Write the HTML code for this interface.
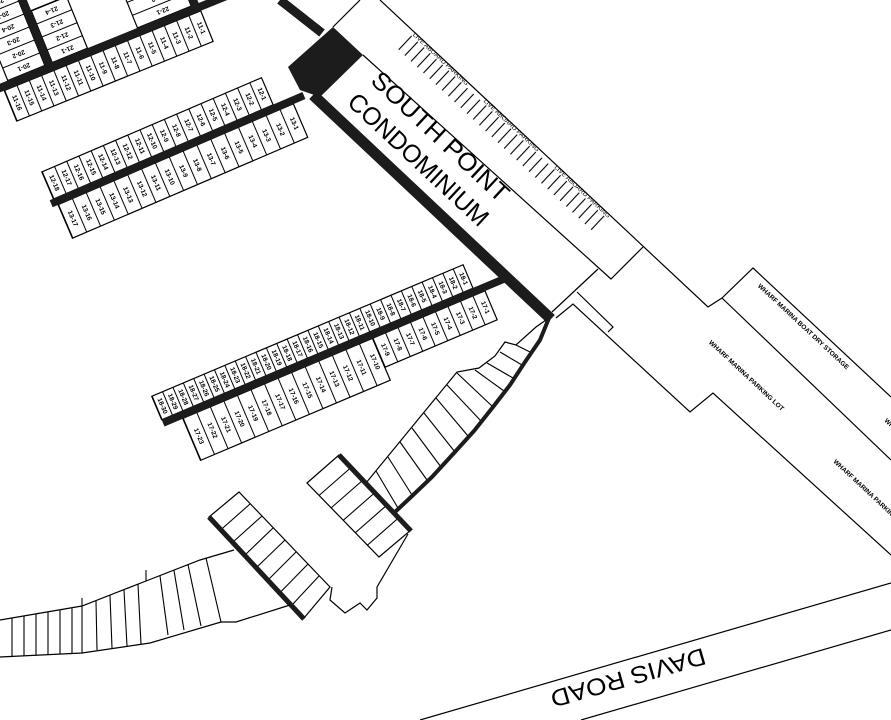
<!DOCTYPE html>
<html><head><meta charset="utf-8"><style>
html,body{margin:0;padding:0;background:#fff;}
svg{display:block;}
text{font-family:"Liberation Sans",sans-serif;fill:#000;}
.s{font-size:6.5px;font-weight:bold;text-anchor:middle;dominant-baseline:central;}
.o{fill:none;stroke:#000;stroke-width:1.2;}
</style></head><body>
<svg width="891" height="720" viewBox="0 0 891 720" xmlns="http://www.w3.org/2000/svg">
<defs>
<pattern id="p12" x="2" y="0" width="13.28" height="100" patternUnits="userSpaceOnUse"><rect width="13.28" height="100" fill="#fff"/><line x1="0.5" y1="-100" x2="0.5" y2="200" stroke="#000" stroke-width="1"/></pattern>
<pattern id="p13" x="4" y="0" width="15.06" height="100" patternUnits="userSpaceOnUse"><rect width="15.06" height="100" fill="#fff"/><line x1="0.5" y1="0" x2="0.5" y2="100" stroke="#000" stroke-width="1"/></pattern>
<pattern id="p18" x="0" y="0" width="11.27" height="100" patternUnits="userSpaceOnUse"><rect width="11.27" height="100" fill="#fff"/><line x1="0.5" y1="0" x2="0.5" y2="100" stroke="#000" stroke-width="1"/></pattern>
<pattern id="p17a" x="20" y="0" width="14.71" height="100" patternUnits="userSpaceOnUse"><rect width="14.71" height="100" fill="#fff"/><line x1="0.5" y1="0" x2="0.5" y2="100" stroke="#000" stroke-width="1"/></pattern>
<pattern id="p17b" x="226" y="0" width="13.56" height="100" patternUnits="userSpaceOnUse"><rect width="13.56" height="100" fill="#fff"/><line x1="0.5" y1="0" x2="0.5" y2="100" stroke="#000" stroke-width="1"/></pattern>
<pattern id="p11" x="3" y="0" width="13.25" height="100" patternUnits="userSpaceOnUse"><rect width="13.25" height="100" fill="#fff"/><line x1="0.5" y1="0" x2="0.5" y2="100" stroke="#000" stroke-width="1"/></pattern>
<pattern id="ph" x="0" y="-4" width="100" height="14" patternUnits="userSpaceOnUse"><rect width="100" height="14" fill="#fff"/><line x1="0" y1="0.5" x2="100" y2="0.5" stroke="#000" stroke-width="1"/></pattern>
<pattern id="pt" x="0" y="0" width="8.5" height="40" patternUnits="userSpaceOnUse"><line x1="1" y1="0" x2="1" y2="40" stroke="#000" stroke-width="1.1"/></pattern>
</defs>

<!-- Dock 11 / 20 / 21 / 22 -->
<g transform="translate(0,88) rotate(-22.1)">
<rect x="3" y="4" width="212" height="33" fill="url(#p11)" stroke="#000" stroke-width="1.2"/>
<rect x="58" y="-60" width="38" height="56" fill="url(#ph)" stroke="#000" stroke-width="1.2"/>
<rect x="10" y="-90" width="40" height="86" fill="url(#ph)" stroke="#000" stroke-width="1.2"/>
<rect x="150" y="-40" width="58" height="36" fill="url(#ph)" stroke="#000" stroke-width="1.2"/>
<rect x="-20" y="-4" width="270" height="8" fill="#1c1c1c"/>
<rect x="50" y="-100" width="8" height="100" fill="#1c1c1c"/>
<rect x="208" y="-60" width="8" height="60" fill="#1c1c1c"/>
<g class="s">
<text transform="translate(9.6,20) rotate(90)">11-16</text><text transform="translate(22.9,20) rotate(90)">11-15</text><text transform="translate(36.1,20) rotate(90)">11-14</text><text transform="translate(49.4,20) rotate(90)">11-13</text><text transform="translate(62.6,20) rotate(90)">11-12</text><text transform="translate(75.9,20) rotate(90)">11-11</text><text transform="translate(89.1,20) rotate(90)">11-10</text><text transform="translate(102.4,20) rotate(90)">11-9</text><text transform="translate(115.6,20) rotate(90)">11-8</text><text transform="translate(128.9,20) rotate(90)">11-7</text><text transform="translate(142.1,20) rotate(90)">11-6</text><text transform="translate(155.4,20) rotate(90)">11-5</text><text transform="translate(168.6,20) rotate(90)">11-4</text><text transform="translate(181.9,20) rotate(90)">11-3</text><text transform="translate(195.1,20) rotate(90)">11-2</text><text transform="translate(208.4,20) rotate(90)">11-1</text>
<text transform="translate(77,-11) rotate(180)">21-1</text><text transform="translate(77,-25) rotate(180)">21-2</text><text transform="translate(77,-39) rotate(180)">21-3</text><text transform="translate(77,-53) rotate(180)">21-4</text>
<text transform="translate(30,-11) rotate(180)">20-1</text><text transform="translate(30,-25) rotate(180)">20-2</text><text transform="translate(30,-39) rotate(180)">20-3</text><text transform="translate(30,-53) rotate(180)">20-4</text><text transform="translate(30,-67) rotate(180)">20-5</text><text transform="translate(30,-81) rotate(180)">20-6</text>
<text transform="translate(180,-11) rotate(180)">22-1</text><text transform="translate(180,-25) rotate(180)">22-2</text>
</g>
</g>

<!-- Dock 12 / 13 -->
<g transform="translate(53,203) rotate(-23.2)">
<rect x="2" y="-33" width="239" height="29.5" fill="url(#p12)" stroke="#000" stroke-width="1.2"/>
<rect x="4" y="3.5" width="256" height="36.5" fill="url(#p13)" stroke="#000" stroke-width="1.2"/>
<rect x="-2" y="-3.8" width="275" height="7.6" fill="#1c1c1c"/>
<g class="s">
<text transform="translate(8.6,-18) rotate(90)">12-18</text><text transform="translate(21.9,-18) rotate(90)">12-17</text><text transform="translate(35.2,-18) rotate(90)">12-16</text><text transform="translate(48.5,-18) rotate(90)">12-15</text><text transform="translate(61.8,-18) rotate(90)">12-14</text><text transform="translate(75,-18) rotate(90)">12-13</text><text transform="translate(88.3,-18) rotate(90)">12-12</text><text transform="translate(101.6,-18) rotate(90)">12-11</text><text transform="translate(114.9,-18) rotate(90)">12-10</text><text transform="translate(128.2,-18) rotate(90)">12-9</text><text transform="translate(141.4,-18) rotate(90)">12-8</text><text transform="translate(154.7,-18) rotate(90)">12-7</text><text transform="translate(168,-18) rotate(90)">12-6</text><text transform="translate(181.3,-18) rotate(90)">12-5</text><text transform="translate(194.6,-18) rotate(90)">12-4</text><text transform="translate(207.8,-18) rotate(90)">12-3</text><text transform="translate(221.1,-18) rotate(90)">12-2</text><text transform="translate(234.4,-18) rotate(90)">12-1</text>
<text transform="translate(11.5,22) rotate(90)">13-17</text><text transform="translate(26.6,22) rotate(90)">13-16</text><text transform="translate(41.6,22) rotate(90)">13-15</text><text transform="translate(56.7,22) rotate(90)">13-14</text><text transform="translate(71.7,22) rotate(90)">13-13</text><text transform="translate(86.8,22) rotate(90)">13-12</text><text transform="translate(101.9,22) rotate(90)">13-11</text><text transform="translate(116.9,22) rotate(90)">13-10</text><text transform="translate(132,22) rotate(90)">13-9</text><text transform="translate(147,22) rotate(90)">13-8</text><text transform="translate(162.1,22) rotate(90)">13-7</text><text transform="translate(177.2,22) rotate(90)">13-6</text><text transform="translate(192.2,22) rotate(90)">13-5</text><text transform="translate(207.3,22) rotate(90)">13-4</text><text transform="translate(222.3,22) rotate(90)">13-3</text><text transform="translate(237.4,22) rotate(90)">13-2</text><text transform="translate(252.5,22) rotate(90)">13-1</text>
</g>
</g>

<!-- Dock 16(18) / 17 -->
<g transform="translate(163,423) rotate(-22.9)">
<rect x="0" y="-29" width="338" height="25.5" fill="url(#p18)" stroke="#000" stroke-width="1.2"/>
<rect x="20" y="3.5" width="206" height="45.5" fill="url(#p17a)" stroke="#000" stroke-width="1.2"/>
<rect x="226" y="3.5" width="122" height="31.5" fill="url(#p17b)" stroke="#000" stroke-width="1.2"/>
<rect x="0" y="-3.8" width="370" height="7.6" fill="#1c1c1c"/>
<g class="s">
<text transform="translate(5.6,-16) rotate(90)">18-30</text><text transform="translate(16.9,-16) rotate(90)">18-29</text><text transform="translate(28.2,-16) rotate(90)">18-28</text><text transform="translate(39.4,-16) rotate(90)">18-27</text><text transform="translate(50.7,-16) rotate(90)">18-26</text><text transform="translate(62,-16) rotate(90)">18-25</text><text transform="translate(73.2,-16) rotate(90)">18-24</text><text transform="translate(84.5,-16) rotate(90)">18-23</text><text transform="translate(95.8,-16) rotate(90)">18-22</text><text transform="translate(107,-16) rotate(90)">18-21</text><text transform="translate(118.3,-16) rotate(90)">18-20</text><text transform="translate(129.6,-16) rotate(90)">18-19</text><text transform="translate(140.9,-16) rotate(90)">18-18</text><text transform="translate(152.1,-16) rotate(90)">18-17</text><text transform="translate(163.4,-16) rotate(90)">18-16</text><text transform="translate(174.7,-16) rotate(90)">18-15</text><text transform="translate(185.9,-16) rotate(90)">18-14</text><text transform="translate(197.2,-16) rotate(90)">18-13</text><text transform="translate(208.5,-16) rotate(90)">18-12</text><text transform="translate(219.7,-16) rotate(90)">18-11</text><text transform="translate(231,-16) rotate(90)">18-10</text><text transform="translate(242.3,-16) rotate(90)">18-9</text><text transform="translate(253.5,-16) rotate(90)">18-8</text><text transform="translate(264.8,-16) rotate(90)">18-7</text><text transform="translate(276.1,-16) rotate(90)">18-6</text><text transform="translate(287.4,-16) rotate(90)">18-5</text><text transform="translate(298.6,-16) rotate(90)">18-4</text><text transform="translate(309.9,-16) rotate(90)">18-3</text><text transform="translate(321.2,-16) rotate(90)">18-2</text><text transform="translate(332.4,-16) rotate(90)">18-1</text>
<text transform="translate(27.4,26) rotate(90)">17-23</text><text transform="translate(42.1,26) rotate(90)">17-22</text><text transform="translate(56.8,26) rotate(90)">17-21</text><text transform="translate(71.5,26) rotate(90)">17-20</text><text transform="translate(86.2,26) rotate(90)">17-19</text><text transform="translate(100.9,26) rotate(90)">17-18</text><text transform="translate(115.6,26) rotate(90)">17-17</text><text transform="translate(130.3,26) rotate(90)">17-16</text><text transform="translate(145.1,26) rotate(90)">17-15</text><text transform="translate(159.8,26) rotate(90)">17-14</text><text transform="translate(174.5,26) rotate(90)">17-13</text><text transform="translate(189.2,26) rotate(90)">17-12</text><text transform="translate(203.9,26) rotate(90)">17-11</text><text transform="translate(218.6,26) rotate(90)">17-10</text>
<text transform="translate(232.8,19) rotate(90)">17-9</text><text transform="translate(246.3,19) rotate(90)">17-8</text><text transform="translate(259.9,19) rotate(90)">17-7</text><text transform="translate(273.5,19) rotate(90)">17-6</text><text transform="translate(287,19) rotate(90)">17-5</text><text transform="translate(300.6,19) rotate(90)">17-4</text><text transform="translate(314.2,19) rotate(90)">17-3</text><text transform="translate(327.7,19) rotate(90)">17-2</text><text transform="translate(341.3,19) rotate(90)">17-1</text>
</g>
</g>

<!-- Building / condo -->
<line x1="280" y1="0" x2="322" y2="33" stroke="#1c1c1c" stroke-width="9"/>
<polygon points="288,67 333,27 363,55 320,97 300,90" fill="#1c1c1c"/>
<line x1="313" y1="95" x2="551" y2="319" stroke="#1c1c1c" stroke-width="11"/>
<polyline class="o" points="333,27 360,0"/>
<polyline class="o" points="363,55 611,279 643,247"/>
<polyline class="o" points="380,0 708,307 722,298 753,268 891,397"/>
<polyline class="o" points="722,298 891,460"/>
<polyline class="o" points="552,312 598,269"/>
<polyline class="o" points="556,318 573,304 690,412 713,393 891,555"/>
<polyline class="o" points="577,292 613,327 608,332"/>
<g transform="translate(413,33) rotate(43.1)">
<rect x="0" y="3" width="272" height="19" fill="url(#pt)"/>
<text x="1" y="2" font-size="6" textLength="74" lengthAdjust="spacingAndGlyphs">LIVE ABOARD PARKING</text>
<text x="98" y="2" font-size="6" textLength="74" lengthAdjust="spacingAndGlyphs">LIVE ABOARD PARKING</text>
<text x="195" y="2" font-size="6" textLength="74" lengthAdjust="spacingAndGlyphs">LIVE ABOARD PARKING</text>
</g>
<text transform="translate(440,137) rotate(43)" font-size="25" fill="#222" text-anchor="middle" dominant-baseline="central" textLength="178" lengthAdjust="spacingAndGlyphs">SOUTH POINT</text>
<text transform="translate(418,160) rotate(43)" font-size="25" fill="#222" text-anchor="middle" dominant-baseline="central" textLength="182" lengthAdjust="spacingAndGlyphs">CONDOMINIUM</text>
<text transform="translate(803,327) rotate(43)" font-size="6.5" font-weight="bold" text-anchor="middle" dominant-baseline="central" textLength="122" lengthAdjust="spacingAndGlyphs">WHARF MARINA BOAT DRY STORAGE</text>
<text transform="translate(746,376) rotate(43)" font-size="6.5" font-weight="bold" text-anchor="middle" dominant-baseline="central" textLength="100" lengthAdjust="spacingAndGlyphs">WHARF MARINA PARKING LOT</text>
<text transform="translate(834,461) rotate(43)" font-size="6.5" font-weight="bold" dominant-baseline="central" textLength="100" lengthAdjust="spacingAndGlyphs">WHARF MARINA PARKING LOT</text>
<text transform="translate(885,420) rotate(43)" font-size="6.5" font-weight="bold" dominant-baseline="central">WHARF MARINA BOAT</text>

<!-- Curved slips along breakwater -->
<polyline class="o" points="546,320 536,327 516,345 505,342 495,356 479,368 457,372 366,483"/>
<g stroke="#000" stroke-width="1.1">
<line x1="530" y1="352" x2="516" y2="345"/><line x1="522" y1="365" x2="500" y2="352"/><line x1="513" y1="378" x2="487" y2="363"/><line x1="504" y1="391" x2="475" y2="370"/><line x1="493" y1="407" x2="457" y2="373"/><line x1="481" y1="421" x2="447" y2="385"/><line x1="468" y1="436" x2="436" y2="398"/><line x1="455" y1="452" x2="424" y2="413"/><line x1="441" y1="467" x2="412" y2="428"/><line x1="427" y1="480" x2="400" y2="442"/><line x1="412" y1="495" x2="388" y2="457"/><line x1="398" y1="508" x2="376" y2="471"/>
</g>
<polyline fill="none" stroke="#1c1c1c" stroke-width="4" points="549,318 540,340 525,362 510,385 493,407 474,431 454,453 432,477 411,497 395,512"/>

<!-- Upper-right small dock -->
<polygon class="o" points="307,483 339,455 411,530 379,557"/>
<g stroke="#000" stroke-width="1.1">
<line x1="319" y1="495.5" x2="351" y2="467.5"/><line x1="331" y1="508" x2="363" y2="480"/><line x1="343" y1="520.5" x2="375" y2="492.5"/><line x1="355" y1="533" x2="387" y2="505"/><line x1="367" y1="545.5" x2="399" y2="517.5"/>
</g>
<line x1="339" y1="455" x2="411" y2="531" stroke="#1c1c1c" stroke-width="5"/>
<polyline class="o" points="408,534 377,587 377,598 367,610 360,603 345,613 330,600 332,587"/>

<!-- Lower dock -->
<polygon class="o" points="209,517 239,492 330,587 304,618"/>
<g stroke="#000" stroke-width="1.1">
<line x1="221" y1="529.6" x2="250" y2="504"/><line x1="233" y1="542" x2="262" y2="516"/><line x1="245" y1="555" x2="273" y2="528"/><line x1="257" y1="567" x2="285" y2="540"/><line x1="268" y1="580" x2="296" y2="552"/><line x1="280" y1="592.6" x2="308" y2="564"/><line x1="292" y1="605" x2="319" y2="576"/>
</g>
<line x1="209" y1="517" x2="304" y2="619" stroke="#1c1c1c" stroke-width="5"/>

<!-- Lower curved slips -->
<polyline class="o" points="0,620 82,606 146,581 200,560 234,550"/>
<polyline class="o" points="0,657 82,653 150,643 221,622 236,622 290,605"/>
<g stroke="#000" stroke-width="1.1">
<line x1="12" y1="618" x2="12" y2="656.5"/><line x1="24" y1="616" x2="24" y2="656"/><line x1="36" y1="614" x2="36" y2="655"/><line x1="48" y1="612" x2="48" y2="655"/><line x1="60" y1="610.5" x2="60" y2="654"/><line x1="72" y1="608.5" x2="72" y2="653.5"/><line x1="82" y1="598" x2="82" y2="653"/><line x1="96" y1="601" x2="97" y2="650"/><line x1="110" y1="595.5" x2="112" y2="648"/><line x1="124" y1="590" x2="127" y2="646"/><line x1="138" y1="584.5" x2="141" y2="644"/><line x1="146" y1="570" x2="146" y2="581"/><line x1="160" y1="576" x2="168" y2="635"/><line x1="174" y1="570.5" x2="184" y2="630"/><line x1="188" y1="564.5" x2="201" y2="626"/><line x1="206" y1="558" x2="221" y2="622"/>
</g>

<!-- Davis Road -->
<line x1="420" y1="720" x2="891" y2="583" stroke="#000" stroke-width="1.2"/>
<line x1="581" y1="720" x2="891" y2="630" stroke="#000" stroke-width="1.2"/>
<text transform="translate(628,677) rotate(164)" font-size="24" text-anchor="middle" dominant-baseline="central" textLength="160" lengthAdjust="spacingAndGlyphs">DAVIS ROAD</text>
</svg>
</body></html>
